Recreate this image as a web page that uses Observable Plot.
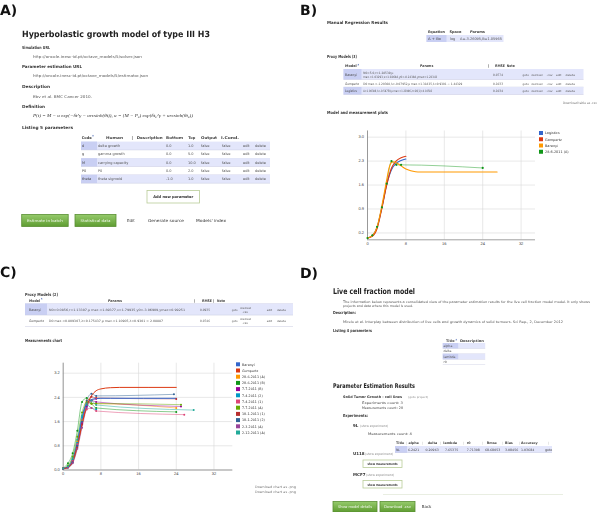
<!DOCTYPE html>
<html><head><meta charset="utf-8">
<script src="https://cdn.jsdelivr.net/npm/d3@7"></script>
<script src="https://cdn.jsdelivr.net/npm/@observablehq/plot@0.6"></script>
<style>
html,body{margin:0;padding:0;background:#fff;}
#root{position:relative;width:600px;height:512px;overflow:hidden;background:#fff;}
svg text{text-rendering:geometricPrecision;}
</style></head>
<body><div id="root"></div>
<script>
// ---------------- DATA ----------------
// Panel B chart
const bXTicks = [0, 8, 16, 24, 32];
const bYTicks = [0.2, 0.9, 1.6, 2.3, 3.0];
const bLegend = ["Logistics", "Gompertz", "Baranyi", "28-6-2011 (A)"];
const bColors = ["#3366cc", "#dc3912", "#ff9900", "#109618"];
const bLogisticsT = [0, 1, 2, 3, 4, 5, 6, 7, 8];
const bLogisticsV = [0.05, 0.12, 0.36, 0.95, 1.62, 2.05, 2.24, 2.32, 2.36];
const bGompertzT = [0, 1, 2, 3, 4, 5, 6, 7, 8];
const bGompertzV = [0.05, 0.10, 0.33, 0.92, 1.60, 2.10, 2.31, 2.40, 2.44];
const bBaranyiT = [0, 1, 2, 3, 4, 4.5, 5, 5.5, 6, 7, 8, 9, 10, 11, 12, 16, 20, 24, 27];
const bBaranyiV = [0.05, 0.12, 0.38, 1.00, 1.75, 2.10, 2.26, 2.28, 2.25, 2.16, 2.07, 2.02, 1.99, 1.98, 1.98, 1.98, 1.98, 1.98, 1.98];
const bMeasT = [0, 1, 2, 3, 4, 5, 6, 7, 24];
const bMeasV = [0.05, 0.13, 0.38, 0.95, 1.64, 2.30, 2.19, 2.19, 2.10];

// Panel C chart
const cXTicks = [0, 8, 16, 24, 32];
const cYTicks = [0.0, 0.8, 1.6, 2.4, 3.2];
const cLegend = ["Baranyi", "Gompertz", "28-6-2011 (A)", "28-6-2011 (B)", "7-7-2011 (B)", "7-4-2011 (2)",
  "7-4-2011 (1)", "7-7-2011 (A)", "18-1-2011 (1)", "18-1-2011 (2)", "2-3-2011 (A)", "2-12-2011 (A)"];
const cColors = ["#3366cc", "#dc3912", "#ff9900", "#109618", "#990099", "#0099c6",
  "#dd4477", "#66aa00", "#b82e2e", "#316395", "#994499", "#22aa99"];
const cBaranyiT = [0, 1, 2, 3, 4, 5, 6, 7, 8, 10, 24];
const cBaranyiV = [0.05, 0.10, 0.32, 0.90, 1.70, 2.20, 2.33, 2.36, 2.37, 2.37, 2.37];
const cGompertzT = [0, 1, 2, 3, 4, 5, 6, 7, 8, 10, 12, 24];
const cGompertzV = [0.04, 0.08, 0.28, 0.80, 1.50, 2.10, 2.45, 2.62, 2.68, 2.72, 2.73, 2.73];
const cMeasT = [
  [0, 1, 2, 3, 4, 5, 6, 7, 24],
  [0, 1, 2, 3, 4, 5, 6, 7, 24],
  [0, 1, 2, 3, 4, 5, 6, 7, 25],
  [0, 1, 2, 3, 4, 5, 6, 7],
  [0, 1, 2, 3, 4, 5, 6, 7, 25.7],
  [0, 1, 2, 3, 4, 5, 6, 7, 25],
  [0, 1, 2, 3, 4, 5, 6, 7, 24],
  [0, 1, 2, 3, 4, 5, 6, 7, 23.5],
  [0, 1, 2, 3, 4, 5, 6, 7],
  [0, 1, 2, 3, 4, 5, 6, 7, 27.7]
];
const cMeasV = [
  [0.05, 0.13, 0.38, 0.95, 1.64, 2.30, 2.19, 2.19, 2.05],
  [0.06, 0.22, 0.55, 1.30, 2.25, 2.38, 2.20, 2.05, 1.92],
  [0.04, 0.10, 0.30, 0.80, 1.55, 2.10, 2.30, 2.25, 2.10],
  [0.05, 0.12, 0.35, 0.90, 1.75, 2.15, 2.05, 2.00],
  [0.05, 0.10, 0.30, 0.85, 1.60, 2.00, 2.05, 1.95, 1.83],
  [0.05, 0.15, 0.45, 1.10, 1.90, 2.25, 2.20, 2.20, 2.16],
  [0.05, 0.08, 0.25, 0.75, 1.50, 2.20, 2.42, 2.38, 2.35],
  [0.05, 0.08, 0.25, 0.80, 1.60, 2.30, 2.52, 2.45, 2.50],
  [0.04, 0.08, 0.22, 0.70, 1.40, 2.05, 2.30, 2.35],
  [0.05, 0.12, 0.40, 1.00, 1.80, 2.20, 2.30, 2.15, 1.98]
];

// Panel A table
const aParamCodes = ["d", "g", "M", "P0", "theta"];
const aParamNames = ["delta growth", "gamma growth", "carrying capacity", "P0", "theta sigmoid"];
const aParamBottom = ["0.0", "0.0", "0.0", "0.0", "-1.0"];
const aParamTop = ["1.0", "5.0", "10.0", "2.0", "1.0"];
// Panel B table
const bModels = ["Baranyi", "Gompertz", "Logistics"];
const bRmse = ["0.0774", "0.1033", "0.1034"];
// Panel C table
const cModels = ["Baranyi", "Gompertz"];
const cRmse = ["0.0935", "0.0746"];
// Panel D
const dParams = ["alpha", "delta", "lambda", "r0"];
const dResultHead = ["Title", "alpha", "delta", "lambda", "r0", "Rmse", "Bias", "Accuracy"];
const dResultRow = ["9L", "6.2421", "0.20963", "7.65375", "7.71308", "68.68053", "3.08456", "1.03684", "goto"];

// ---------------- HELPERS ----------------
const root = document.getElementById("root");
const FONT = '"DejaVu Sans", Verdana, sans-serif';
const NS = "http://www.w3.org/2000/svg";
const over = document.createElementNS(NS, "svg");
over.setAttribute("width", 600); over.setAttribute("height", 512);
Object.assign(over.style, { position: "absolute", left: "0px", top: "0px", pointerEvents: "none", willChange: "transform" });
over.innerHTML = `<defs><linearGradient id="gb" x1="0" y1="0" x2="0" y2="1">
<stop offset="0" stop-color="#96cb6c"/><stop offset="1" stop-color="#5e9c31"/></linearGradient></defs>`;
function T(x, b, s, o = {}) {
  const e = document.createElementNS(NS, "text");
  e.setAttribute("x", x); e.setAttribute("y", b);
  e.setAttribute("font-size", o.fs || 4);
  e.setAttribute("font-family", o.f || FONT);
  if (o.b) e.setAttribute("font-weight", "bold");
  if (o.i) e.setAttribute("font-style", "italic");
  e.setAttribute("fill", o.c || "#333");
  if (o.a) e.setAttribute("text-anchor", o.a);
  if (o.w) { e.setAttribute("textLength", o.w); e.setAttribute("lengthAdjust", "spacingAndGlyphs"); }
  e.textContent = s;
  over.appendChild(e);
  return e;
}
function R(x, y, w, h, fill, stroke) {
  const e = document.createElementNS(NS, "rect");
  e.setAttribute("x", x); e.setAttribute("y", y); e.setAttribute("width", w); e.setAttribute("height", h);
  e.setAttribute("fill", fill || "none");
  if (stroke) { e.setAttribute("stroke", stroke); e.setAttribute("stroke-width", 0.8); }
  over.appendChild(e);
  return e;
}
const SH = "#e3e6fb", SHD = "#c9cff3", LINE = "#c8cbe0", TXT = "#555";
function greenBtn(x, y, w, h, label, lw) {
  R(x, y, w, h, "url(#gb)", "#5a8f33");
  T(x + w / 2, y + h / 2 + 1.4, label, { fs: 3.8, c: "#f4f9ee", a: "middle", w: lw });
}
function whiteBtn(x, y, w, h, label, fs, lw) {
  R(x, y, w, h, "#fff", "#b9cc98");
  T(x + w / 2, y + h / 2 + 1.4, label, { fs: fs || 3.8, c: "#333", a: "middle", b: true, w: lw });
}

// ---------------- PANEL A ----------------
T(0, 15, "A)", { fs: 14, b: true, c: "#111" });
T(22, 36.5, "Hyperbolastic growth model of type III H3", { fs: 8.5, b: true, w: 188, c: "#222" });
T(22, 49, "Simulation URL", { fs: 4.2, b: true, w: 28 });
T(33, 57.5, "http://oncole.inesc-id.pt/octave_models/5/solver.json", { fs: 3.8, w: 109, c: TXT });
T(22, 68, "Parameter estimation URL", { fs: 4.2, b: true, w: 60 });
T(33, 77, "http://oncole.inesc-id.pt/octave_models/5/estimator.json", { fs: 3.8, w: 115, c: TXT });
T(22, 88, "Description", { fs: 4.2, b: true, w: 28 });
T(33, 98, "Ebv et al. BMC Cancer 2010.", { fs: 3.8, w: 59, c: TXT });
T(22, 107.5, "Definition", { fs: 4.2, b: true, w: 23 });
T(33, 117, "P(t) = M − α exp(−δt^γ − arcsinh(θt)), α = (M − P₀) exp(δt₀^γ + arcsinh(θt₀))", { fs: 4.5, i: true, f: '"Liberation Serif", serif', w: 160, c: "#333" });
T(22, 128.5, "Listing 5 parameters", { fs: 4.2, b: true, w: 51 });
// table A
const aHead = [["Code", 81.7, 10], ["Human", 106, 17], ["|", 131.5], ["Description", 136.7, 26], ["Bottom", 166, 17], ["Top", 188.3, 7], ["Output", 201, 16], ["I.Cond.", 221, 18]];
aHead.forEach(([s, x, w]) => T(x, 138.8, s, { fs: 3.8, b: true, w, c: "#444" }));
T(92.3, 136.3, "▲", { fs: 2, c: "#3355aa" });
const aRowY = [141.6, 149.9, 158.2, 166.5, 174.8];
aRowY.forEach((y, i) => {
  if (i % 2 === 0) {
    R(81, y, 189, 8.3, SH);
    R(81, y, 16, 8.3, SHD);
  }
  R(81, y + 8.1, 189, 0.5, LINE);
  const b = y + 5.5;
  T(82, b, aParamCodes[i], { fs: 3.5, c: "#444" });
  T(98, b, aParamNames[i], { fs: 3.5, c: TXT });
  T(166, b, aParamBottom[i], { fs: 3.5, c: TXT });
  T(188, b, aParamTop[i], { fs: 3.5, c: TXT });
  T(201, b, "false", { fs: 3.5, c: TXT });
  T(222, b, "false", { fs: 3.5, c: TXT });
  T(243, b, "edit", { fs: 3.5, c: TXT });
  T(255, b, "delete", { fs: 3.5, c: TXT });
});
whiteBtn(147, 190.5, 52.5, 12.5, "Add new parameter", 3.8, 40);
greenBtn(21.7, 214.5, 46.5, 12, "Estimate in batch", 36);
greenBtn(75, 214.5, 41, 12, "Statistical data", 30);
T(127, 222, "Edit", { fs: 4, c: "#333" });
T(148, 222, "Generate source", { fs: 4, w: 36, c: "#333" });
T(196, 222, "Models' index", { fs: 4, w: 30, c: "#333" });

// ---------------- PANEL B ----------------
T(300, 15, "B)", { fs: 14, b: true, c: "#111" });
T(327, 24, "Manual Regression Results", { fs: 4.2, b: true, w: 61 });
[["Equation", 428, 17], ["Space", 449.5, 12], ["Params", 470, 15]].forEach(([s, x, w]) => T(x, 33, s, { fs: 3.6, b: true, w, c: "#444" }));
R(426.5, 35, 77, 7, SH);
R(426.5, 35, 20, 7, SHD);
T(428, 40.2, "A + Bx", { fs: 3.5, c: "#444", w: 13 });
T(450, 40.2, "log", { fs: 3.5, c: TXT });
T(460, 40.2, "A=-3.26095,B=1.05965", { fs: 3.5, w: 42, c: TXT });
T(327, 58, "Proxy Models (3)", { fs: 4.2, b: true, w: 30 });
[["Model", 345, 11.7], ["Params", 420, 13.3], ["|", 488], ["RMSE", 495, 10], ["Note", 506.7, 8]].forEach(([s, x, w]) => T(x, 67, s, { fs: 3.6, b: true, w, c: "#444" }));
T(357.5, 65, "▲", { fs: 2, c: "#3355aa" });
const bRows = [[69, 10.5], [79.5, 7.5], [87, 7.5]];
const bParams = [
  ["N0=5.0,r=1.28539,μ", "max.=1.03293,ν=1.02648,y0=-0.24388,ymax=1.22343"],
  ["D0 max.=-1.20308,λ=-0.07952,μ max.=1.31835,λ=0.9301 ~ 1.44329"],
  ["A=1.00386,λ=-0.58750,μ max.=1.23906,λ=26(1)=4.10583"]
];
bRows.forEach(([y, h], i) => {
  if (i % 2 === 0) { R(343.5, y, 240, h, SH); R(343.5, y, 18, h, SHD); }
  R(343.5, y + h - 0.2, 240, 0.5, LINE);
  const mid = y + h / 2 + 1.3;
  T(345, mid, bModels[i], { fs: 3.3, c: "#444", w: i === 1 ? 14 : 12 });
  if (bParams[i].length === 2) {
    T(363.3, mid - 2, bParams[i][0], { fs: 3, c: TXT, w: 30 });
    T(363.3, mid + 2, bParams[i][1], { fs: 3, c: TXT, w: 74 });
  } else T(363.3, mid, bParams[i][0], { fs: 3, c: TXT, w: i === 1 ? 99 : 69 });
  T(493, mid, bRmse[i], { fs: 3.2, c: TXT, w: 10 });
  T(522.5, mid, "goto", { fs: 2.8, c: TXT, w: 6.5 });
  T(531.3, mid, "download", { fs: 2.8, c: TXT, w: 11.2 });
  T(546.5, mid, ".csv", { fs: 2.8, c: TXT, w: 6 });
  T(556, mid, "edit", { fs: 2.8, c: TXT, w: 5.5 });
  T(565.5, mid, "delete", { fs: 2.8, c: TXT, w: 9.5 });
});
T(597, 103.5, "Download table as .csv", { fs: 3.2, c: "#777", a: "end", w: 34 });
T(327, 114, "Model and measurement plots", { fs: 4.2, b: true, w: 61 });

function rowsOf(name, ts, vs) { return ts.map((t, i) => ({ series: name, t, v: vs[i] })); }
function axisMarks(xt, yt) {
  return [
    Plot.gridX(xt, { stroke: "#d9d9d9", strokeOpacity: 1, strokeWidth: 0.6 }),
    Plot.gridY(yt, { stroke: "#d9d9d9", strokeOpacity: 1, strokeWidth: 0.6 }),
    Plot.axisX(xt, { tickSize: 0, tickPadding: 2.5, label: null, fill: "#444" }),
    Plot.axisY(yt, { tickSize: 0, tickPadding: 3.5, label: null, tickFormat: d3.format(".1f"), fill: "#444" }),
    Plot.ruleX([0], { stroke: "#777", strokeWidth: 0.7 }),
    Plot.ruleY([0], { stroke: "#777", strokeWidth: 0.7 })
  ];
}
const bCurves = [
  ...rowsOf("Logistics", bLogisticsT, bLogisticsV),
  ...rowsOf("Gompertz", bGompertzT, bGompertzV),
  ...rowsOf("Baranyi", bBaranyiT, bBaranyiV)
];
const bMeas = rowsOf("28-6-2011 (A)", bMeasT, bMeasV);
const chartB = Plot.plot({
  width: 205, height: 122, marginLeft: 32, marginRight: 5, marginTop: 5.5, marginBottom: 7.7,
  x: { domain: [0, 35] }, y: { domain: [0, 3.18] },
  color: { domain: bLegend, range: bColors },
  style: { fontSize: "4px", fontFamily: "Liberation Sans, Arial, sans-serif", background: "transparent", overflow: "visible" },
  marks: [
    ...axisMarks(bXTicks, bYTicks),
    Plot.line(bMeas, { x: "t", y: "v", z: "series", stroke: "series", curve: "monotone-x", strokeWidth: 1, strokeOpacity: 0.45 }),
    Plot.line(bCurves, { x: "t", y: "v", z: "series", stroke: "series", curve: "monotone-x", strokeWidth: 1.1 }),
    Plot.dot(bMeas, { x: "t", y: "v", fill: "series", r: 1.1 })
  ]
});
Object.assign(chartB.style, { position: "absolute", left: "335px", top: "125px" });
root.appendChild(chartB);
bLegend.forEach((s, i) => {
  const y = 131 + i * 6.25;
  R(539, y, 4, 4, bColors[i]);
  T(545, y + 3.3, s, { fs: 3.4, c: "#333" });
});

// ---------------- PANEL C ----------------
T(0, 277, "C)", { fs: 14, b: true, c: "#111" });
T(25, 295.5, "Proxy Models (2)", { fs: 4.2, b: true, w: 33 });
R(25, 303, 268, 0.5, LINE);
[["Model", 29, 11], ["Params", 108, 14], ["|", 194], ["RMSE", 202, 10], ["|", 213], ["Note", 217, 8]].forEach(([s, x, w]) => T(x, 301.5, s, { fs: 3.6, b: true, w, c: "#444" }));
T(41, 299.3, "▲", { fs: 2, c: "#3355aa" });
const cParams = [
  "N0=0.0856,r=1.13307,μ max.=1.89377,ν=1.79935,y0=-3.06909,ymax=0.99251",
  "D0 max.=0.809307,λ=0.175437,μ max.=1.10905,λ=0.9301 = 2.08887"
];
[[303.6, 11.4], [315, 11.4]].forEach(([y, h], i) => {
  if (i === 0) { R(25, y, 268, h, SH); R(25, y, 22, h, SHD); }
  R(25, y + h - 0.2, 268, 0.5, LINE);
  const mid = y + h / 2 + 1.3;
  T(29, mid, cModels[i], { fs: 3.3, c: "#444", w: i === 0 ? 12 : 15 });
  T(49, mid, cParams[i], { fs: 3, c: TXT, w: i === 0 ? 136 : 114 });
  T(200, mid, cRmse[i], { fs: 3.2, c: TXT, w: 10 });
  T(231.7, mid, "goto", { fs: 2.8, c: TXT, w: 6 });
  T(240, mid - 2, "download", { fs: 2.8, c: TXT, w: 11 });
  T(242, mid + 2.2, ".csv", { fs: 2.8, c: TXT, w: 6 });
  T(266.7, mid, "edit", { fs: 2.8, c: TXT, w: 5.5 });
  T(277, mid, "delete", { fs: 2.8, c: TXT, w: 9 });
});
T(25, 342, "Measurements chart", { fs: 4.2, b: true, w: 37 });

const cCurves = [
  ...rowsOf("Baranyi", cBaranyiT, cBaranyiV),
  ...rowsOf("Gompertz", cGompertzT, cGompertzV)
];
const cMeas = cMeasT.flatMap((ts, k) => rowsOf(cLegend[k + 2], ts, cMeasV[k]));
const chartC = Plot.plot({
  width: 205, height: 122, marginLeft: 32.7, marginRight: 2.7, marginTop: 7.7, marginBottom: 7.5,
  x: { domain: [0, 36] }, y: { domain: [0, 3.53] },
  color: { domain: cLegend, range: cColors },
  style: { fontSize: "4px", fontFamily: "Liberation Sans, Arial, sans-serif", background: "transparent", overflow: "visible" },
  marks: [
    ...axisMarks(cXTicks, cYTicks),
    Plot.line(cMeas, { x: "t", y: "v", z: "series", stroke: "series", curve: "monotone-x", strokeWidth: 0.9, strokeOpacity: 0.55 }),
    Plot.line(cCurves, { x: "t", y: "v", z: "series", stroke: "series", curve: "monotone-x", strokeWidth: 1 }),
    Plot.dot(cMeas, { x: "t", y: "v", fill: "series", r: 1 })
  ]
});
Object.assign(chartC.style, { position: "absolute", left: "30px", top: "355px" });
root.appendChild(chartC);
cLegend.forEach((s, i) => {
  const y = 362.3 + i * 6.2;
  R(236, y, 4, 4, cColors[i]);
  T(242, y + 3.3, s, { fs: 3.3, c: "#333" });
});
T(296, 488, "Download chart as .png", { fs: 3.2, c: "#777", a: "end", w: 41 });
T(296, 493, "Download chart as .png", { fs: 3.2, c: "#777", a: "end", w: 41 });

// ---------------- PANEL D ----------------
T(300, 278, "D)", { fs: 14, b: true, c: "#111" });
T(333, 294, "Live cell fraction model", { fs: 8, b: true, w: 82, c: "#222" });
T(343, 303, "The information below represents a consolidated view of the parameter estimation results for the live cell fraction model model. It only shows", { fs: 3.3, w: 247, c: TXT });
T(343, 307.3, "projects and data where this model is used.", { fs: 3.3, w: 70, c: TXT });
T(333, 314.3, "Description:", { fs: 4, b: true, w: 23 });
T(343, 323, "Mirelo et al. Interplay between distribution of live cells and growth dynamics of solid tumours. Sci Rep., 2, December 2012", { fs: 3.3, w: 220, c: TXT });
T(333, 332, "Listing 4 parameters", { fs: 4, b: true, w: 39 });
T(446, 342, "Title", { fs: 3.4, b: true, w: 8.5, c: "#444" });
T(455.5, 340.3, "▲", { fs: 1.8, c: "#3355aa" });
T(460, 342, "Description", { fs: 3.4, b: true, w: 24, c: "#444" });
dParams.forEach((p, i) => {
  const y = 343 + i * 5.4;
  if (i % 2 === 0) { R(442.7, y, 42.5, 5.4, SH); R(442.7, y, 15.5, 5.4, SHD); }
  R(442.7, y + 5.2, 42.5, 0.4, LINE);
  T(443.5, y + 4, p, { fs: 3.2, c: TXT });
});
T(333, 388, "Parameter Estimation Results", { fs: 6.4, b: true, w: 82, c: "#222" });
T(343, 397.5, "Solid Tumor Growth - cell lines", { fs: 3.4, b: true, w: 59, c: "#333" });
T(408, 397.5, "(goto project)", { fs: 2.8, c: "#888", w: 20 });
T(403, 404.3, "Experiments count:   3", { fs: 3.3, c: "#444", a: "end", w: 41 });
T(403, 409, "Measurements count:   28", { fs: 3.3, c: "#444", a: "end", w: 41 });
T(343, 417.3, "Experiments:", { fs: 4, b: true, w: 25, c: "#333" });
T(353, 426.7, "9L", { fs: 4, b: true, c: "#333" });
T(360, 426.7, "(show experiment)", { fs: 3, c: "#888", w: 28 });
T(368, 435, "Measurements count:   4", { fs: 3.3, c: "#444", w: 44 });
const dHx = [396, 408.5, 427.7, 443.3, 466.7, 486.7, 505, 521];
R(395, 446, 157, 6.8, SH);
R(395, 446, 12, 6.8, SHD);
R(395, 452.6, 157, 0.4, LINE);
dResultHead.forEach((s, i) => T(dHx[i], 444, s, { fs: 3.3, b: true, c: "#444" }));
[406, 422, 440, 463, 482, 502, 519, 548].forEach(x => T(x, 444, "|", { fs: 3, c: "#aaa" }));
const dRx = [396, 408, 425.5, 445, 466.7, 485, 505, 521, 545];
dResultRow.forEach((s, i) => T(dRx[i], 451, s, { fs: 3.2, c: "#444" }));
T(353, 455.2, "U118", { fs: 4, b: true, c: "#333" });
T(365, 455.2, "(show experiment)", { fs: 3, c: "#888", w: 28 });
whiteBtn(363, 460, 39, 7.5, "show measurements", 3.2, 30);
T(353, 476, "MCF7", { fs: 4, b: true, c: "#333" });
T(366, 476, "(show experiment)", { fs: 3, c: "#888", w: 28 });
whiteBtn(363, 480.5, 39, 7.5, "show measurements", 3.2, 30);
R(383, 494, 180, 0.5, "#d3dcc4");
greenBtn(333, 501.5, 44, 10.5, "Show model details", 34);
greenBtn(380, 501.5, 35, 10.5, "Download .csv", 27);
T(421.7, 508, "Back", { fs: 4, c: "#333" });

root.appendChild(over);
</script>
</body></html>
